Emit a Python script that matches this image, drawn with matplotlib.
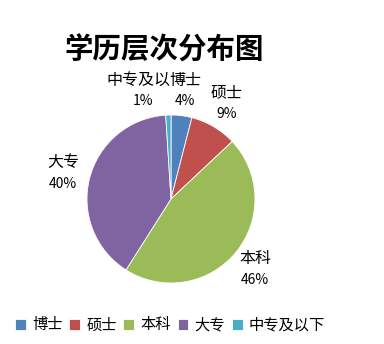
import matplotlib
matplotlib.use('Agg')
import matplotlib.pyplot as plt

plt.rcParams['font.family'] = ['Noto Sans CJK SC', 'DejaVu Sans']

# data
title = '学历层次分布图'
categories = ['博士', '硕士', '本科', '大专', '中专及以下']
shares = [4, 9, 46, 40, 1]
colors = ['#4F81BD', '#C0504D', '#9BBB59', '#8064A2', '#4BACC6']

# label positions in pixels (x, y from top), Excel "best fit" look
label_pos = [(185, 80), (227, 93), (255, 259), (63, 163), (138, 80)]
label_text = ['博士', '硕士', '本科', '大专', '中专及以']  # last one is cut off in the original

W, H = 384, 344
fig = plt.figure(figsize=(W / 100, H / 100), dpi=100)
ax = fig.add_axes([0, 0, 1, 1])

wedges, _ = ax.pie(shares, colors=colors, startangle=90, counterclock=False,
                   center=(171, H - 199), radius=84, frame=True,
                   wedgeprops=dict(edgecolor='white', linewidth=0.6))
ax.set_xlim(0, W)
ax.set_ylim(0, H)
ax.set_aspect('equal')
ax.axis('off')

for i in range(len(categories)):
    x, y = label_pos[i]
    ax.text(x, H - y, label_text[i], ha='center', va='center', fontsize=11.5, color='black')
    ax.text(x + (5 if i == 4 else 0), H - y - 21, str(shares[i]) + '%',
            ha='center', va='center', fontsize=10, color='black')

ax.text(164, H - 51, title, ha='center', va='center', fontsize=20.5, fontweight='bold')

fig.legend(wedges, categories, loc='center', bbox_to_anchor=(170 / W, 1 - 325 / H),
           ncol=5, frameon=False, fontsize=11, handlelength=0.7, handleheight=0.7,
           handletextpad=0.4, columnspacing=0.45, borderpad=0)

fig.savefig('out.png', dpi=100)
